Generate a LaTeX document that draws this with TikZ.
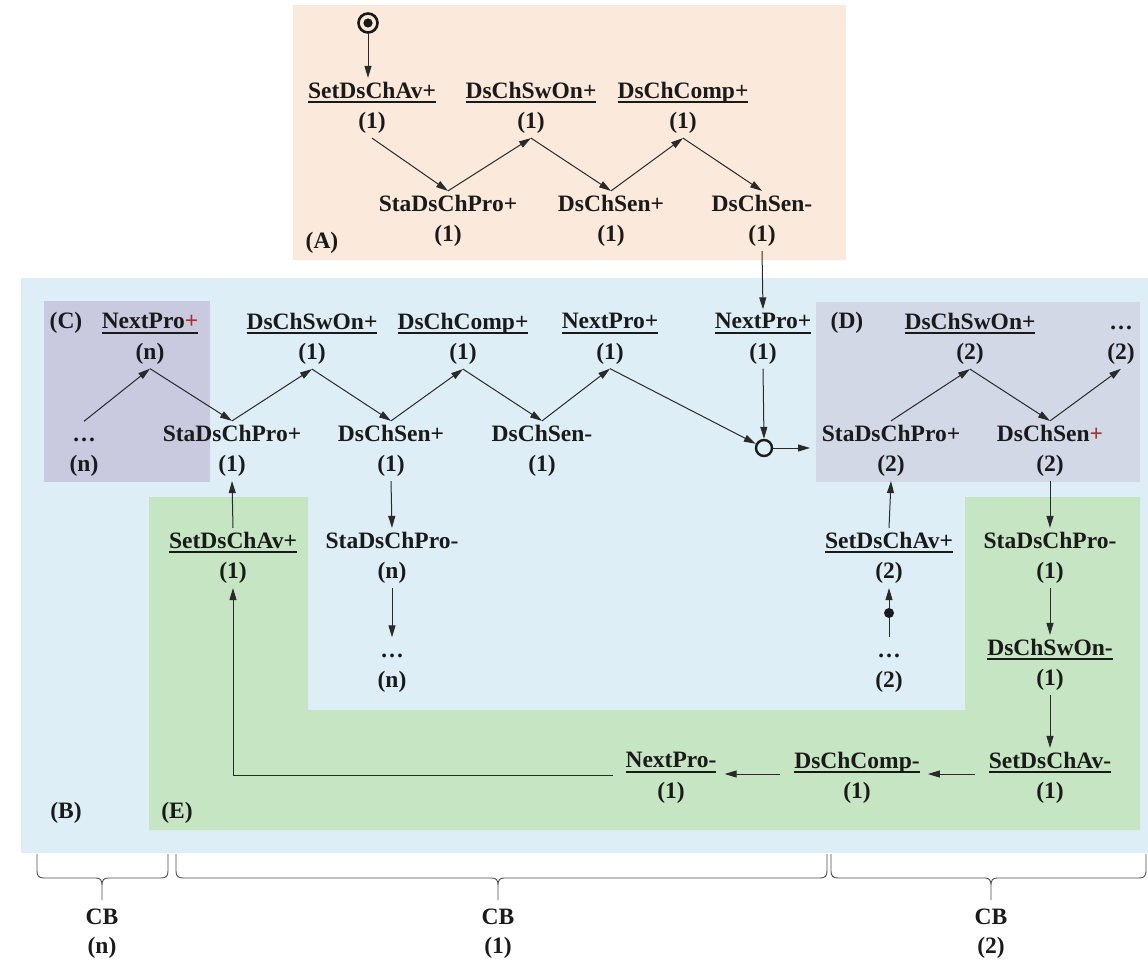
\documentclass[tikz,border=0pt]{standalone}
\usepackage{fontspec}
\setmainfont{Liberation Serif}
\usetikzlibrary{arrows.meta,calc}
\definecolor{ink}{HTML}{1A1A1A}
\definecolor{wire}{HTML}{2A2A2A}
\definecolor{plusred}{HTML}{A83030}
\definecolor{zoneA}{HTML}{FBE9DB}
\definecolor{zoneB}{HTML}{DEEEF6}
\definecolor{zoneC}{HTML}{C9C9DF}
\definecolor{zoneD}{HTML}{D3D8E7}
\definecolor{zoneE}{HTML}{C6E5C2}
% underlined event name, rule at a fixed depth
\newcommand\uln[1]{\setbox0\hbox{#1}\rlap{\rule[-4.8pt]{\wd0}{2pt}}\box0}
\newcommand\rp{\textcolor{plusred}{+}}
% ellipsis with the height of a capital, so the node has the usual size
\newcommand\edots{\vphantom{S}…}
% curly brace grouping a control block: left end, tip, right end
\newcommand\cbbrace[3]{\draw[brace] (#1,854) -- (#1,871) .. controls (#1,876) and (#1+2,878) .. (#1+7,878) -- (#2-6,878) .. controls (#2-2,878) and (#2,880) .. (#2,885) -- (#2,900) (#2,885) .. controls (#2,880) and (#2+2,878) .. (#2+6,878) -- (#3-7,878) .. controls (#3-2,878) and (#3,876) .. (#3,871) -- (#3,854);}
\begin{document}
\begin{tikzpicture}[x=1pt,y=-1pt,
  ev/.style={align=center, inner sep=4pt, text=ink,
    font=\fontsize{23.5}{30.5}\selectfont\bfseries},
  lab/.style={inner sep=0pt, text=ink, font=\fontsize{23.5}{28}\selectfont\bfseries},
  cb/.style={align=center, inner sep=0pt, text=ink, font=\fontsize{23.5}{29}\selectfont\bfseries},
  arr/.style={draw=wire, line width=1pt, -{Triangle[length=12pt,width=7pt]}},
  wireline/.style={draw=wire, line width=1pt},
  brace/.style={draw=black!70, line width=0.9pt},
  junction/.style={circle, draw=ink, line width=2.4pt, minimum size=16pt, inner sep=0pt},
  dotnode/.style={circle, fill=ink, minimum size=10pt, inner sep=0pt},
  startnode/.style={circle, draw=ink, line width=2.6pt, minimum size=19pt, inner sep=0pt,
    path picture={\fill[ink] (path picture bounding box.center) circle (4.6pt);}}]
\useasboundingbox (0,0) rectangle (1148,960);

% zones
\fill[zoneA] (293,5) rectangle (846,260);
\fill[zoneB] (21,278) rectangle (1148,853);
\fill[zoneC] (44,301) rectangle (210,482);
\fill[zoneD] (816,302) rectangle (1140,482);
\fill[zoneE] (149,497) -- (308,497) -- (308,710) -- (965,710) -- (965,497)
  -- (1140,497) -- (1140,830) -- (149,830) -- cycle;

% zone labels
\node[lab] (labA) at (322,243) {(A)};
\node[lab] (labB) at (66,813) {(B)};
\node[lab] (labC) at (66,323) {(C)};
\node[lab] (labD) at (847,323) {(D)};
\node[lab] (labE) at (177,813) {(E)};

% (A) initialisation
\node[startnode] (start) at (368,23) {};
\node[ev] (set1A) at (372,108) {\uln{SetDsChAv+}\\(1)};
\node[ev] (swon1A) at (531,108) {\uln{DsChSwOn+}\\(1)};
\node[ev] (comp1A) at (683,108) {\uln{DsChComp+}\\(1)};
\node[ev] (sta1A) at (448,221) {StaDsChPro+\\(1)};
\node[ev] (sen1A) at (611,221) {DsChSen+\\(1)};
\node[ev] (senm1A) at (762,221) {DsChSen-\\(1)};

% upper chain
\node[ev] (nextn) at (150,339) {\uln{NextPro\rp}\\(n)};
\node[ev] (swon1) at (312,339) {\uln{DsChSwOn+}\\(1)};
\node[ev] (comp1) at (463,339) {\uln{DsChComp+}\\(1)};
\node[ev] (next1) at (610,339) {\uln{NextPro+}\\(1)};
\node[ev] (next1b) at (763,339) {\uln{NextPro+}\\(1)};
\node[ev] (swon2) at (970,339) {\uln{DsChSwOn+}\\(2)};
\node[ev] (dots2t) at (1121,339) {\edots\\(2)};

\node[ev] (dotsn) at (84,451) {\edots\\(n)};
\node[ev] (sta1) at (232,451) {StaDsChPro+\\(1)};
\node[ev] (sen1) at (391,451) {DsChSen+\\(1)};
\node[ev] (senm1) at (542,451) {DsChSen-\\(1)};
\node[junction] (j) at (764,448) {};
\coordinate (jout) at (810,448);
\node[ev] (sta2) at (891,451) {StaDsChPro+\\(2)};
\node[ev] (sen2) at (1050,451) {DsChSen\rp\\(2)};

% columns
\node[ev] (set1) at (233,558) {\uln{SetDsChAv+}\\(1)};
\node[ev] (stamn) at (392,558) {StaDsChPro-\\(n)};
\node[ev] (set2) at (889,558) {\uln{SetDsChAv+}\\(2)};
\node[ev] (stam1) at (1050,558) {StaDsChPro-\\(1)};

\node[ev] (dotsn2) at (392,667) {\edots\\(n)};
\node[ev] (dots2) at (889,667) {\edots\\(2)};
\node[dotnode] (d2) at (889,613) {};
\node[ev] (swonm1) at (1050,665) {\uln{DsChSwOn-}\\(1)};

\node[ev] (setm1) at (1050,778) {\uln{SetDsChAv-}\\(1)};
\node[ev] (compm1) at (857,778) {\uln{DsChComp-}\\(1)};
\node[ev] (nextm1) at (671,778) {\uln{NextPro-}\\(1)};

% connectors in (A)
\draw[arr] (start.south) -- (start.south |- set1A.north);
\draw[arr] (set1A.south) -- (sta1A.north);
\draw[arr] (sta1A.north) -- (swon1A.south);
\draw[arr] (swon1A.south) -- (sen1A.north);
\draw[arr] (sen1A.north) -- (comp1A.south);
\draw[arr] (comp1A.south) -- (senm1A.north);
\draw[arr] (senm1A.south) -- (next1b.north);

% upper zigzag
\draw[arr] (dotsn.north) -- (nextn.south);
\draw[arr] (nextn.south) -- (sta1.north);
\draw[arr] (sta1.north) -- (swon1.south);
\draw[arr] (swon1.south) -- (sen1.north);
\draw[arr] (sen1.north) -- (comp1.south);
\draw[arr] (comp1.south) -- (senm1.north);
\draw[arr] (senm1.north) -- (next1.south);
\draw[arr] (next1.south) -- (j);
\draw[arr] (next1b.south) -- (j.north);
\draw[arr] (j.east) -- (jout);

\draw[arr] (sta2.north) -- (swon2.south);
\draw[arr] (swon2.south) -- (sen2.north);
\draw[arr] (sen2.north) -- (dots2t.south);

% vertical links
\draw[arr] (set1.north) -- (sta1.south);
\draw[arr] (sen1.south) -- (stamn.north);
\draw[arr] (stamn.south) -- (dotsn2.north);
\draw[arr] (set2.north) -- (sta2.south);
\draw[wireline] (dots2.north) -- (d2);
\draw[arr] (d2) -- (set2.south);
\draw[arr] (sen2.south) -- (stam1.north);
\draw[arr] (stam1.south) -- (swonm1.north);
\draw[arr] (swonm1.south) -- (setm1.north);

% return path
\draw[arr, shorten <=10pt, shorten >=4pt] ([yshift=4pt]setm1.west) -- ([yshift=4pt]compm1.east);
\draw[arr, shorten <=10pt, shorten >=4pt] ([yshift=4pt]compm1.west) -- ([yshift=4pt]nextm1.east);
\draw[arr, shorten <=8pt] ([yshift=3pt]nextm1.west) -| (set1.south);

% control blocks
\cbbrace{37}{102}{168}
\cbbrace{176}{498}{827}
\cbbrace{831}{991}{1146}
\node[cb] (cbn) at (102,934) {CB\\(n)};
\node[cb] (cb1) at (498,934) {CB\\(1)};
\node[cb] (cb2) at (991,934) {CB\\(2)};
\end{tikzpicture}
\end{document}
